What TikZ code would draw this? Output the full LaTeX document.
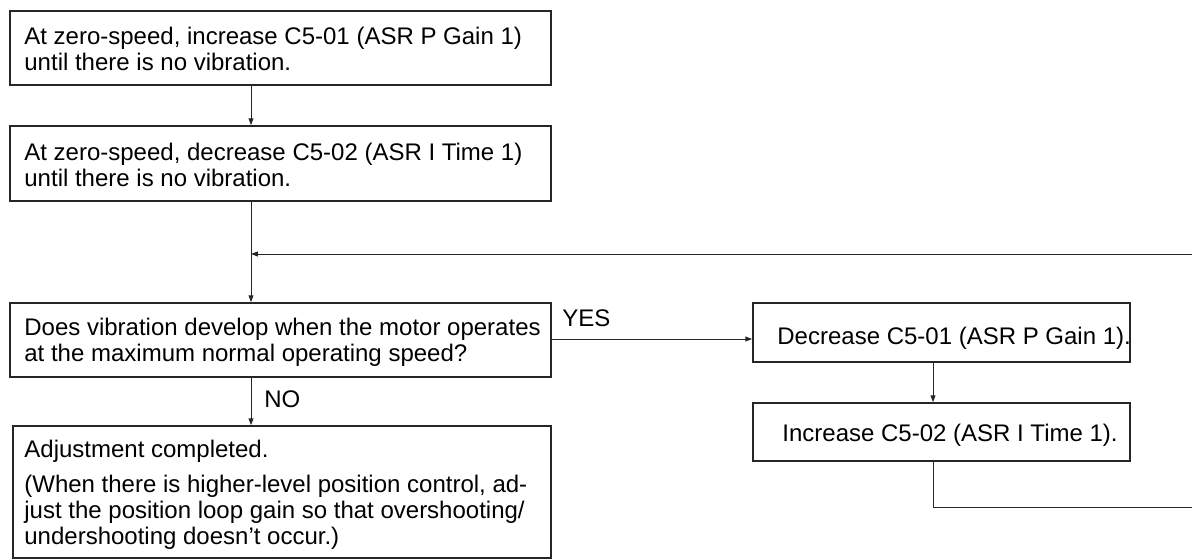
\documentclass[tikz,border=0pt]{standalone}
\usepackage{fontspec}
\setmainfont{Liberation Sans}
\usetikzlibrary{arrows.meta,fit}
\begin{document}
\begin{tikzpicture}[x=0.5pt,y=-0.5pt,
  box/.style={draw=black!85, line width=0.8pt, rectangle, inner sep=0pt},
  txt/.style={anchor=base west, inner sep=0pt, font=\fontsize{12}{13}\selectfont},
  conn/.style={draw=black!85, line width=0.5pt},
  arr/.style={conn, -{Triangle[length=3.4pt,width=2.4pt]}}]
\useasboundingbox (0,0) rectangle (1192,559);
% corners
\coordinate (b1a) at (10,11);   \coordinate (b1b) at (551,85);
\coordinate (b2a) at (10,126);  \coordinate (b2b) at (551,201);
\coordinate (b3a) at (10,303);  \coordinate (b3b) at (551,377);
\coordinate (b4a) at (13,426);  \coordinate (b4b) at (551,558);
\coordinate (b5a) at (753,303); \coordinate (b5b) at (1130,362);
\coordinate (b6a) at (753,403); \coordinate (b6b) at (1130,461);
\node[box, fit=(b1a)(b1b)] (b1) {};
\node[box, fit=(b2a)(b2b)] (b2) {};
\node[box, fit=(b3a)(b3b)] (b3) {};
\node[box, fit=(b4a)(b4b)] (b4) {};
\node[box, fit=(b5a)(b5b)] (b5) {};
\node[box, fit=(b6a)(b6b)] (b6) {};
% texts
\node[txt] (t1a) at (24,44) {At zero-speed, increase C5-01 (ASR P Gain 1)};
\node[txt] (t1b) at (24,70) {until there is no vibration.};
\node[txt] (t2a) at (24,160) {At zero-speed, decrease C5-02 (ASR I Time 1)};
\node[txt] (t2b) at (24,186) {until there is no vibration.};
\node[txt] (t3a) at (24,335) {Does vibration develop when the motor operates};
\node[txt] (t3b) at (24,361) {at the maximum normal operating speed?};
\node[txt] (t4a) at (24,457) {Adjustment completed.};
\node[txt] (t4b) at (24,492) {(When there is higher-level position control, ad-};
\node[txt] (t4c) at (24,518) {just the position loop gain so that overshooting/};
\node[txt] (t4d) at (24,544) {undershooting doesn’t occur.)};
\node[txt] (t5) at (777,344) {Decrease C5-01 (ASR P Gain 1).};
\node[txt] (t6) at (782,441) {Increase C5-02 (ASR I Time 1).};
\node[txt] (yes) at (562,326) {YES};
\node[txt] (no) at (264,407) {NO};
% connector helpers
\coordinate (sp) at (251,0);
\coordinate (sp2) at (933,0);
\coordinate (loopIn) at (1192,254);
\coordinate (loopOut) at (1192,507);
\coordinate (yesY) at (0,339);
% connectors
\draw[arr] (b1.south -| sp) -- (b2.north -| sp);
\draw[arr] (b2.south -| sp) -- (b3.north -| sp);
\draw[arr] (loopIn) -- (loopIn -| sp);
\draw[arr] (b3.east |- yesY) -- (b5.west |- yesY);
\draw[arr] (b3.south -| sp) -- (b4.north -| sp);
\draw[arr] (b5.south -| sp2) -- (b6.north -| sp2);
\draw[conn] (b6.south -| sp2) -- (sp2 |- loopOut) -- (loopOut);
\end{tikzpicture}
\end{document}
